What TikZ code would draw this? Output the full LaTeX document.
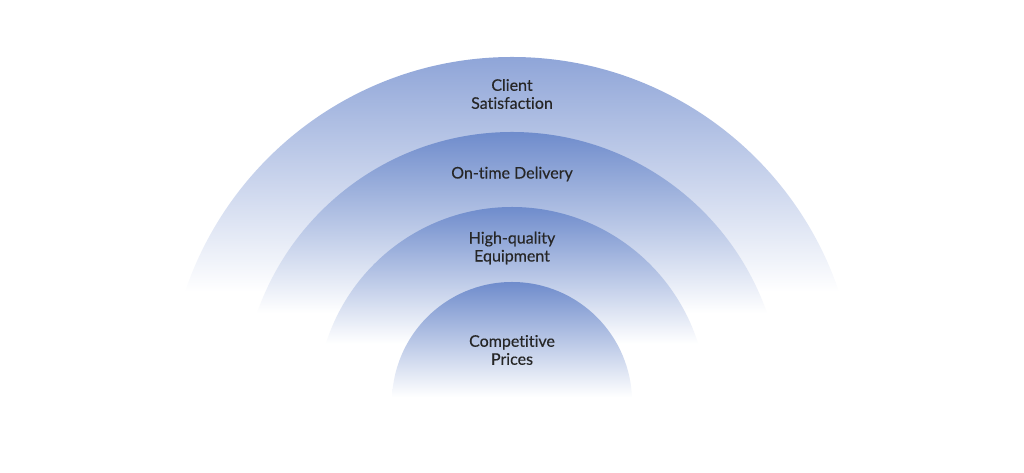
\documentclass[tikz,border=0pt]{standalone}
\usepackage{fontspec}
\setmainfont{Lato}
\newfontfamily\labelfont{Lato}[FakeBold=0.35, Ligatures=NoCommon]
\usetikzlibrary{positioning}

\definecolor{ringblue}{HTML}{6F8CCC}
\definecolor{ringpale}{HTML}{8FA5D8}
\definecolor{labelink}{HTML}{262626}
\pgfdeclareverticalshading{fadeclient}{100bp}{color(0bp)=(white); color(41bp)=(white); color(75bp)=(ringpale); color(100bp)=(ringpale)}
\pgfdeclareverticalshading{fadedelivery}{100bp}{color(0bp)=(white); color(41.5bp)=(white); color(75bp)=(ringblue); color(100bp)=(ringblue)}
\pgfdeclareverticalshading{fadeequipment}{100bp}{color(0bp)=(white); color(40bp)=(white); color(75bp)=(ringblue); color(100bp)=(ringblue)}
\pgfdeclareverticalshading{fadeprices}{100bp}{color(0bp)=(white); color(27bp)=(white); color(75bp)=(ringblue); color(100bp)=(ringblue)}

\tikzset{
  ringlabel/.style={font=\labelfont\fontsize{12}{13.5}\selectfont, text=labelink, align=center}
}

\begin{document}
\begin{tikzpicture}[x=0.75pt,y=0.75pt]
  \useasboundingbox (0,0) rectangle (1024,473);
  \coordinate (o) at (512,71);

  \foreach \r/\s in {345/fadeclient,270/fadedelivery,195/fadeequipment,120/fadeprices}
    \shade[shading=\s] ([xshift=-\r*0.75pt]o) arc[start angle=180,end angle=0,radius=\r] -- cycle;

  \node[ringlabel] (client) at (512,379) {Client\\Satisfaction};
  \node[ringlabel] (delivery) at (512,299) {On-time Delivery};
  \node[ringlabel] (equipment) at (512,225) {High-quality\\Equipment};
  \node[ringlabel] (prices) at (512,123) {Competitive\\Prices};
\end{tikzpicture}
\end{document}
